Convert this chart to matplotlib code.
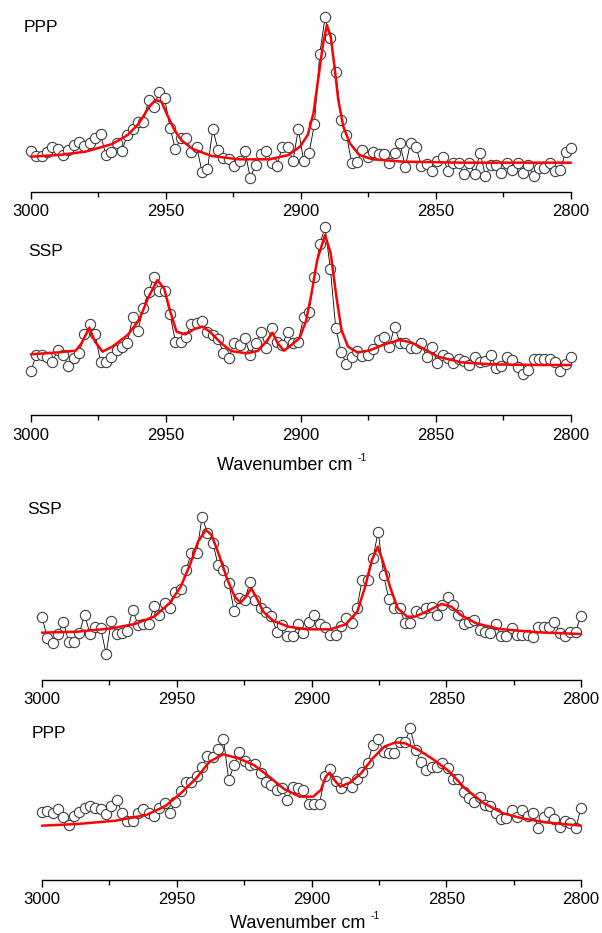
import numpy as np
import matplotlib
matplotlib.use("Agg")
import matplotlib.pyplot as plt
from matplotlib.ticker import MultipleLocator

plt.rcParams['font.family'] = ['Liberation Sans', 'DejaVu Sans']

# ---------------- data (intensity in arbitrary units) ----------------
labels = ["PPP", "SSP", "SSP", "PPP"]

int1 = [123,109,109,121,134,129,111,126,141,149,139,146,163,173,111,119,148,123,171,188,
        209,211,276,256,301,281,193,129,161,161,121,136,59,68,188,126,101,98,79,92,
        124,43,81,114,123,88,78,135,136,94,189,94,116,203,414,524,461,361,216,171,
        86,91,126,106,119,113,114,86,116,146,76,148,136,79,84,63,93,106,63,86,
        86,53,86,54,118,48,81,81,56,86,66,86,58,81,49,71,71,86,64,66,121,131]
fitx1 = [3000,2989.8,2979.8,2969.9,2964.2,2960.0,2956.4,2953.9,2951.7,2949.8,2947.2,2944.4,
         2940.1,2933.0,2923.1,2911.7,2904.6,2900.4,2897.5,2895.4,2893.5,2891.8,2890.4,2889.0,
         2887.6,2886.2,2884.3,2881.9,2878.4,2873.4,2862.0,2840.7,2800]
fity1 = [106,111,121,144,171,206,254,276,271,236,191,156,129,108,98,98,111,136,171,236,
         346,446,501,466,376,276,196,146,111,98,91,88,88]

int2 = [133,180,180,175,160,195,180,148,170,185,242,273,242,160,160,173,195,205,215,293,
        253,322,370,413,372,373,303,220,220,235,273,275,282,250,240,228,187,170,217,210,
        230,180,217,248,202,262,220,210,250,215,220,295,310,413,513,563,437,260,190,152,
        175,192,178,180,197,225,235,205,265,217,217,200,200,217,173,205,155,180,172,155,
        167,163,150,175,160,162,180,142,147,175,165,145,122,135,168,167,167,167,160,133,
        153,173]
fitx2 = [3000,2989.8,2983.4,2981.3,2978.4,2976.3,2973.5,2969.9,2964.2,2960.0,2956.4,2953.2,
         2950.7,2948.6,2946.1,2942.9,2939.4,2936.6,2933.7,2930.2,2925.9,2920.2,2916.0,2912.4,
         2910.6,2908.6,2906.3,2903.9,2900.6,2898.2,2896.1,2894.0,2891.1,2889.0,2886.9,2885.0,
         2882.6,2879.1,2874.8,2869.1,2863.5,2859.2,2854.9,2849.3,2840.7,2829.4,2812.4,2800]
fity2 = [182,188,193,215,262,220,190,205,240,285,355,405,380,315,250,242,258,265,250,220,
         192,185,192,225,247,215,193,208,230,280,365,465,540,485,355,255,205,188,193,212,
         225,218,200,175,158,152,150,150]

int3 = [190,125,110,138,175,115,115,142,195,138,160,157,78,177,138,142,148,210,165,168,
        168,223,195,230,217,265,272,330,382,382,490,440,412,345,330,292,208,245,240,295,
        240,217,205,192,145,165,132,132,168,142,175,195,167,160,135,135,162,185,170,215,
        300,300,365,445,315,242,215,217,172,172,207,202,215,220,195,225,248,225,195,168,
        175,180,150,145,142,168,132,132,155,135,135,135,128,160,160,160,175,142,132,145,
        145,193]
fitx3 = [3000,2986.9,2974.1,2965.6,2958.4,2952.7,2948.5,2944.9,2942.1,2939.2,2937.1,2934.3,
         2931.4,2928.5,2926.4,2924.3,2922.4,2920.3,2917.9,2914.3,2908.6,2901.5,2893.0,2887.3,
         2883.0,2880.1,2877.6,2875.4,2873.3,2870.9,2868.0,2864.5,2861.6,2857.4,2851.7,2848.1,
         2844.6,2838.9,2830.3,2816.1,2800]
fity3 = [142,145,155,168,190,230,280,350,415,450,435,375,305,250,232,250,275,245,205,178,
         160,152,152,167,205,280,360,400,350,280,215,190,190,205,228,220,195,170,153,143,138]

int4 = [205,207,200,212,190,165,193,203,217,222,215,212,197,222,240,200,178,178,200,212,
        200,193,217,230,202,235,268,293,295,312,340,372,368,392,422,300,345,385,357,345,
        347,322,295,285,270,275,240,278,277,270,228,228,228,312,333,297,277,295,280,302,
        325,350,405,423,385,380,380,415,413,455,390,355,330,340,340,350,335,303,303,265,
        245,235,248,225,222,200,183,185,210,190,210,192,200,157,190,205,183,158,178,172,
        155,217]
fitx4 = [3000,2986.9,2972.7,2961.3,2954.2,2948.5,2942.8,2937.8,2932.8,2927.1,2921.4,2915.7,
         2910.0,2904.3,2899.4,2896.5,2894.7,2893.2,2891.5,2889.4,2885.8,2881.6,2877.3,2873.0,
         2868.8,2865.2,2860.2,2854.5,2848.8,2843.1,2836.0,2828.9,2821.8,2813.2,2800]
fity4 = [163,168,178,195,222,260,305,355,377,365,345,310,272,250,250,270,310,322,300,280,
         292,320,365,400,413,410,390,360,325,275,230,200,185,173,163]

tick_values = [3000, 2950, 2900, 2850, 2800]
xlabel_main = "Wavenumber cm"
xlabel_sup = "-1"

panels = [(labels[0], int1, fitx1, fity1),
          (labels[1], int2, fitx2, fity2),
          (labels[2], int3, fitx3, fity3),
          (labels[3], int4, fitx4, fity4)]

# ---------------- layout (pixels) ----------------
W, H = 602, 933
fig = plt.figure(figsize=(W / 100, H / 100), dpi=100)
boxes = [(31, 571, 192, 185), (31, 571, 415, 195), (42, 581, 680, 175), (42, 581, 880, 170)]
label_pos = [(24, 28), (28, 252), (27, 510), (32, 733)]
xlabel_pos = {1: (217, 465), 3: (230, 923)}

for k, (name, yy, fx, fy) in enumerate(panels):
    x0, x1, yb, h = boxes[k]
    ax = fig.add_axes([x0 / W, (H - yb) / H, (x1 - x0) / W, h / H])
    xs = np.linspace(3000, 2800, len(yy))
    ax.plot(xs, yy, '-', color='black', lw=0.6, zorder=2, clip_on=False)
    ax.plot(xs, yy, 'o', ms=7.4, mfc='white', mec='#404040', mew=0.8, zorder=3, clip_on=False)
    ax.plot(fx, fy, '-', color='#ff0000', lw=1.8, zorder=4, clip_on=False,
            solid_joinstyle='round', solid_capstyle='round')
    ax.set_xlim(3000, 2800)
    ax.set_ylim(0, 3 * h)
    for s in ['top', 'left', 'right']:
        ax.spines[s].set_visible(False)
    ax.spines['bottom'].set_linewidth(1.0)
    ax.set_yticks([])
    ax.set_xticks(tick_values)
    ax.xaxis.set_minor_locator(MultipleLocator(25))
    ax.tick_params(axis='x', which='major', direction='out', length=5, width=1.0,
                   labelsize=12, pad=4)
    ax.tick_params(axis='x', which='minor', direction='out', length=3.3, width=1.0)
    ax.patch.set_visible(False)
    lx, ly = label_pos[k]
    fig.text(lx / W, 1 - ly / H, name, fontsize=12.5, ha='left', va='center')
    if k in xlabel_pos:
        tx, ty = xlabel_pos[k]
        fig.text(tx / W, 1 - ty / H, xlabel_main, fontsize=13, ha='left', va='center')
        fig.text((tx + 141) / W, 1 - (ty - 7) / H, xlabel_sup, fontsize=7.5,
                 ha='left', va='center')

fig.savefig("out.png", dpi=100)
